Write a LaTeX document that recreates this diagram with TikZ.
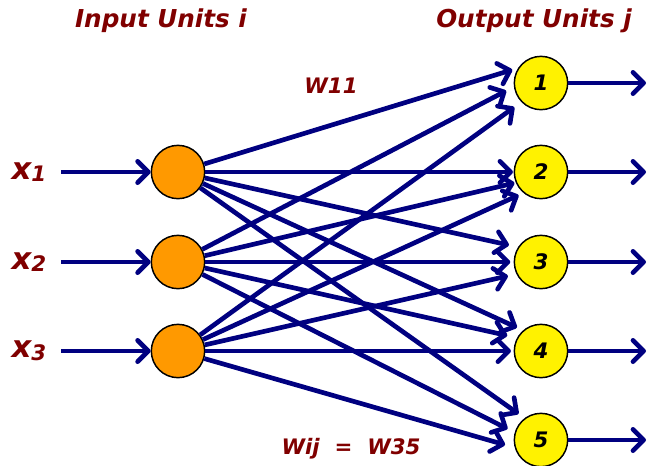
\documentclass[tikz,border=0pt]{standalone}
\usepackage{fontspec}
\setmainfont{DejaVu Sans}
\usetikzlibrary{arrows.meta}
\definecolor{navy}{HTML}{000080}
\definecolor{unitorange}{HTML}{FF9900}
\definecolor{labelred}{HTML}{800000}
\newcommand{\xsub}[1]{{\fontsize{23}{23}\selectfont x}{\fontsize{16}{16}\selectfont\raisebox{-2pt}{#1}}}

\begin{document}
\begin{tikzpicture}[x=0.75pt, y=-0.75pt,
		inunit/.style={circle, draw=black, line width=1.1pt, fill=unitorange, minimum size=40pt, inner sep=0pt},
		outunit/.style={inunit, fill=yellow, font=\fontsize{16}{16}\selectfont\bfseries\itshape},
		link/.style={draw=navy, line width=3.5pt, -{Straight Barb[length=8pt, width=16pt, round]}},
		lbl/.style={text=labelred, font=\fontsize{16}{18}\selectfont\bfseries\itshape},
		title/.style={lbl, font=\fontsize{18.5}{20}\selectfont\bfseries\itshape}]
		\useasboundingbox (0,0) rectangle (647,465);
		\node[title] (intitle) at (161,21) {Input Units i};
		\node[title] (outtitle) at (534,21) {Output Units j};
		\foreach \i/\y in {1/172,2/262,3/351} {
			\node[inunit] (i\i) at (178,\y) {};
			\node[lbl] (x\i) at (29,\y) {\xsub{\i}};
			\coordinate (s\i) at (61,\y);
			\draw[link] (s\i) -- (i\i);
		}
		\foreach \j/\y in {1/83,2/172,3/262,4/351,5/440} {
			\node[outunit] (o\j) at (541,\y) {\j};
			\coordinate (e\j) at (646,\y);
			\draw[link] (o\j) -- (e\j);
		}
		\foreach \i/\j/\a/\s in {1/1/147/4.5pt, 2/1/188/6.5pt, 3/1/224/6.5pt,
				1/2/180/0.5pt, 2/2/203/1pt, 3/2/230/4pt,
				1/3/147/7pt, 2/3/180/2.5pt, 3/3/206/6.5pt,
				1/4/131/5pt, 2/4/151/7.5pt, 3/4/180/2pt,
				1/5/127/5.5pt, 2/5/164/6pt, 3/5/196/7.5pt}
			\draw[link, shorten >=\s] (i\i) -- (o\j.\a);
		\node[lbl] (w11) at (331,86) {W11};
		\node[lbl] (wij) at (351,449) {Wij\ \ =\ \ W35};
	\end{tikzpicture}
\end{document}
